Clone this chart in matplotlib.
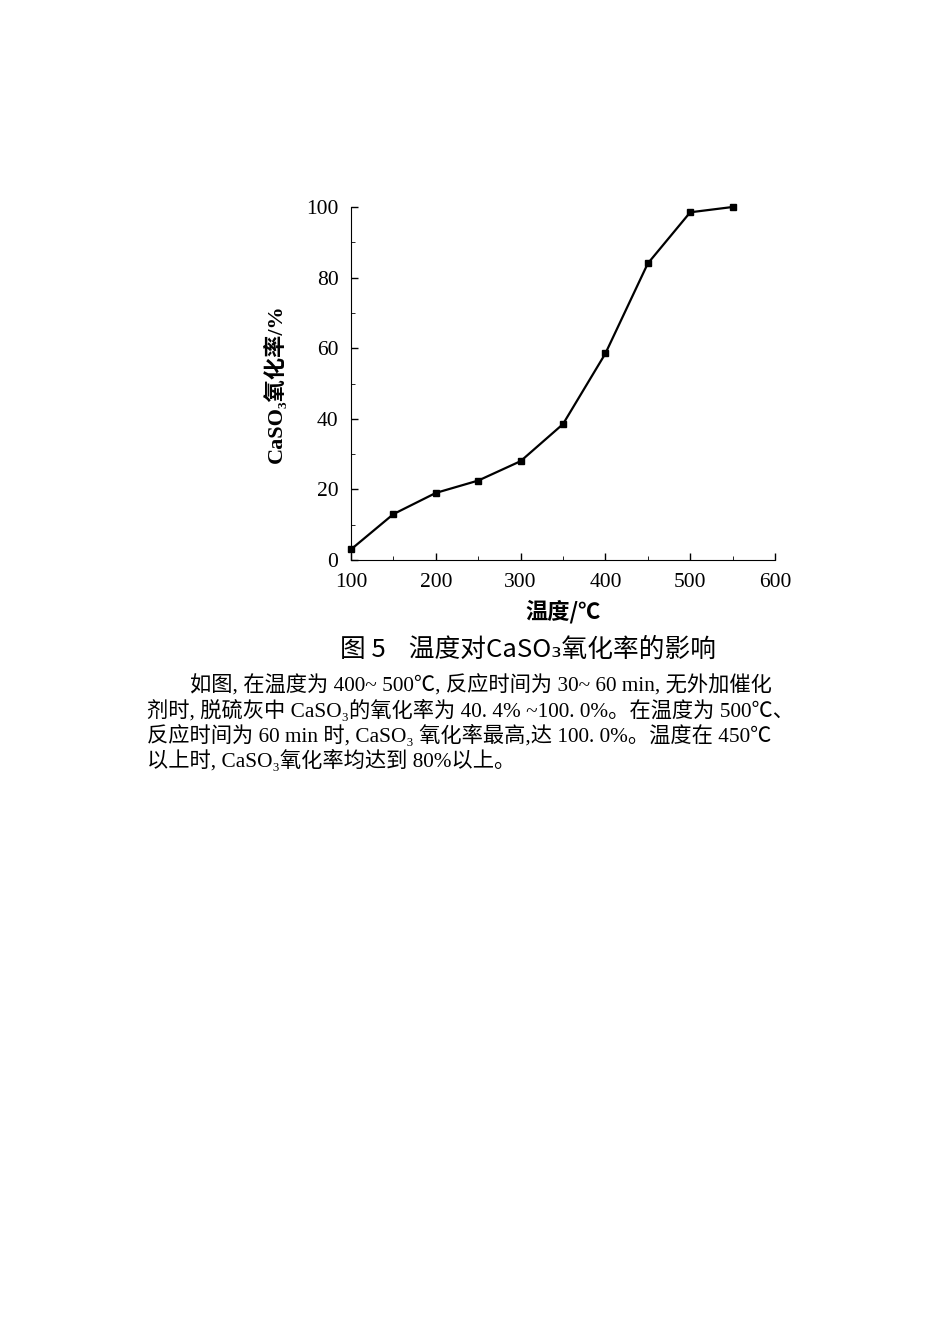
import matplotlib
matplotlib.use("Agg")
import matplotlib.pyplot as plt

temps = [100, 150, 200, 250, 300, 350, 400, 450, 500, 550]
rates = [3, 13, 19, 22.5, 28, 38.5, 58.5, 84, 98.5, 100]
xticks = [100, 200, 300, 400, 500, 600]
yticks = [0, 20, 40, 60, 80, 100]

FS = ['Liberation Serif', 'Noto Sans CJK SC', 'DejaVu Sans']
FC = ['Noto Sans CJK SC', 'DejaVu Sans']

fig = plt.figure(figsize=(9.5, 13.44), dpi=100)
ax = fig.add_axes([351/950, 1-560/1344, 424/950, 353/1344])
ax.plot(temps, rates, color='black', lw=1.6, marker='s', ms=5, clip_on=False)
ax.set_xlim(100, 600)
ax.set_ylim(0, 100)
ax.set_xticks(xticks)
ax.set_yticks(yticks)
ax.set_xticks(range(150, 600, 100), minor=True)
ax.set_yticks(range(10, 100, 20), minor=True)
for s in ['top', 'right']:
    ax.spines[s].set_visible(False)
ax.tick_params(direction='in', length=5, width=1, labelsize=15.5, pad=9)
ax.tick_params(which='minor', direction='in', length=3)
for lab in ax.get_xticklabels() + ax.get_yticklabels():
    lab.set_family(FS)
ax.set_xlabel('温度/℃', family=FC, fontsize=16, fontweight='bold', labelpad=6)
ax.set_ylabel('CaSO₃氧化率/%', family=FS, fontsize=16, fontweight='bold', labelpad=14)

fig.text(528/950, 1-650/1344, '图 5    温度对CaSO₃氧化率的影响', family=FC,
         fontsize=18.5, ha='center', va='center')
lines = [
    (190, '如图, 在温度为 400~ 500℃, 反应时间为 30~ 60 min, 无外加催化'),
    (147, '剂时, 脱硫灰中 CaSO₃的氧化率为 40. 4% ~100. 0%。在温度为 500℃、'),
    (147, '反应时间为 60 min 时, CaSO₃ 氧化率最高,达 100. 0%。温度在 450℃'),
    (147, '以上时, CaSO₃氧化率均达到 80%以上。'),
]
for i, (x, t) in enumerate(lines):
    fig.text(x/950, 1-(686+25*i)/1344, t, family=FS, fontsize=15.3, ha='left', va='center')

fig.savefig('out.png', dpi=100)
